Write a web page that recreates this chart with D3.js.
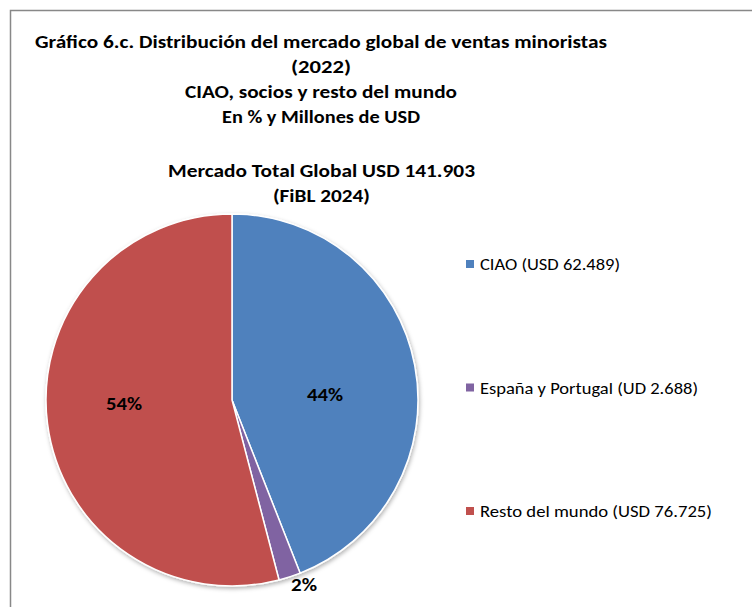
<!DOCTYPE html>
<html><head><meta charset="utf-8">
<script src="https://cdn.jsdelivr.net/npm/d3@7"></script>
<style>body{margin:0;background:#fff}svg{display:block}text{font-family:Carlito,Lato,"Open Sans",sans-serif}</style>
</head><body>
<svg id="c" width="752" height="607"></svg>
<script>
const categories = ["CIAO", "España y Portugal", "Resto del mundo"];
const values = [62489, 2688, 76725];
const legendLabels = ["CIAO (USD 62.489)", "España y Portugal (UD 2.688)", "Resto del mundo (USD 76.725)"];
const pctLabels = ["44%", "2%", "54%"];
const colors = ["#4F81BD", "#8064A2", "#C0504D"];
const titleLines = ["Gráfico 6.c. Distribución del mercado global de ventas minoristas", "(2022)", "CIAO, socios y resto del mundo", "En % y Millones de USD"];
const subtitleLines = ["Mercado Total Global USD 141.903", "(FiBL 2024)"];

const titleWidths = [572, 60, 272, 198];
const subtitleWidths = [307, 97];
const legendWidths = [140, 218, 232];
const pctWidths = [36, 26, 36];

const svg = d3.select("#c");
svg.append("rect").attr("x",10.5).attr("y",10.5).attr("width",760).attr("height",620)
  .attr("fill","#fff").attr("stroke","#888").attr("stroke-width",1.5);

const defs = svg.append("defs");
const f = defs.append("filter").attr("id","sh").attr("x","-10%").attr("y","-10%").attr("width","120%").attr("height","120%");
f.append("feDropShadow").attr("dx",1).attr("dy",2).attr("stdDeviation",2).attr("flood-color","#000").attr("flood-opacity",0.3);

titleLines.forEach((t,i)=>{
  svg.append("text").attr("x",321).attr("y",48+i*25).attr("text-anchor","middle")
    .attr("font-size",18).attr("font-weight","bold").attr("fill","#000")
    .attr("textLength",titleWidths[i]).attr("lengthAdjust","spacingAndGlyphs").text(t);
});
subtitleLines.forEach((t,i)=>{
  svg.append("text").attr("x",321.5).attr("y",177+i*25).attr("text-anchor","middle")
    .attr("font-size",18).attr("font-weight","bold").attr("fill","#000")
    .attr("textLength",subtitleWidths[i]).attr("lengthAdjust","spacingAndGlyphs").text(t);
});

const cx=232, cy=400, r=186;
const pie = d3.pie().sort(null).value(d=>d);
const arcs = pie(values);
const arc = d3.arc().innerRadius(0).outerRadius(r);
const g = svg.append("g").attr("transform",`translate(${cx},${cy})`);
g.append("g").attr("filter","url(#sh)").selectAll("path").data(arcs).join("path")
  .attr("d",arc).attr("fill",(d,i)=>colors[i]).attr("stroke","#fff").attr("stroke-width",1.5);

const labelPos = [[93,-5],[72,185],[-108,3.5]];
arcs.forEach((d,i)=>{
  g.append("text").attr("x",labelPos[i][0]).attr("y",labelPos[i][1]).attr("text-anchor","middle")
    .attr("dominant-baseline","central").attr("font-size",18).attr("font-weight","bold").attr("fill","#000")
    .attr("textLength",pctWidths[i]).attr("lengthAdjust","spacingAndGlyphs").text(pctLabels[i]);
});

const ly = d3.scalePoint().domain(categories).range([264,511]);
const lg = svg.append("g");
categories.forEach((c,i)=>{
  lg.append("rect").attr("x",466).attr("y",ly(c)-4).attr("width",8).attr("height",8).attr("fill",colors[i]);
  lg.append("text").attr("x",480).attr("y",ly(c)).attr("dominant-baseline","central")
    .attr("font-size",16.5).attr("fill","#000")
    .attr("textLength",legendWidths[i]).attr("lengthAdjust","spacingAndGlyphs").text(legendLabels[i]);
});
</script>
</body></html>
